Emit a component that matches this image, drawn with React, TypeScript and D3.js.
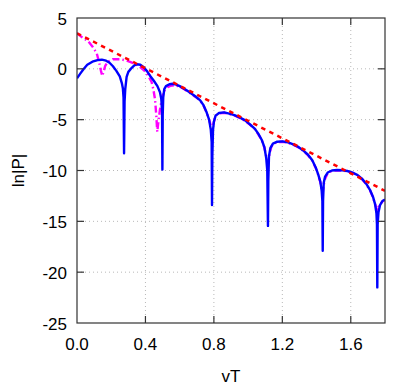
import React from 'react';
import * as d3 from 'd3';

// ln|P| against vT
const blueCurve: [number, number][] = [
  [0, -0.92], [0.02, -0.45], [0.04, 0.0], [0.06, 0.4], [0.09, 0.7], [0.12, 0.86], [0.145, 0.9],
  [0.17, 0.8], [0.19, 0.6], [0.21, 0.25], [0.23, -0.2], [0.25, -0.75], [0.262, -1.4], [0.268, -1.9],
  [0.272, -2.8], [0.275, -8.3],
  [0.278, -3.2], [0.282, -2.0], [0.29, -0.8], [0.3, -0.3], [0.32, 0.1], [0.335, 0.35], [0.35, 0.45],
  [0.37, 0.4], [0.39, 0.15], [0.41, -0.25], [0.43, -0.75], [0.45, -1.2], [0.47, -1.7], [0.485, -2.3],
  [0.493, -3.0], [0.497, -4.2], [0.499, -9.9],
  [0.501, -4.5], [0.504, -2.8], [0.51, -2.0], [0.52, -1.7], [0.54, -1.52], [0.56, -1.47], [0.58, -1.55],
  [0.6, -1.7], [0.62, -1.9], [0.645, -2.15], [0.67, -2.45], [0.695, -2.75], [0.72, -3.1], [0.74, -3.6],
  [0.758, -4.3], [0.772, -5.0], [0.782, -6.0], [0.787, -7.2], [0.789, -13.4],
  [0.791, -8.5], [0.795, -6.0], [0.8, -5.2], [0.81, -4.6], [0.83, -4.35], [0.86, -4.28], [0.89, -4.4],
  [0.92, -4.55], [0.95, -4.78], [0.98, -5.05], [1.01, -5.45], [1.04, -5.9], [1.06, -6.4], [1.08, -7.0],
  [1.095, -7.7], [1.106, -8.8], [1.112, -10.0], [1.116, -15.45],
  [1.118, -11.0], [1.122, -8.6], [1.13, -7.8], [1.145, -7.35], [1.17, -7.17], [1.2, -7.13], [1.23, -7.22],
  [1.26, -7.4], [1.29, -7.65], [1.32, -8.0], [1.35, -8.45], [1.375, -9.0], [1.395, -9.7], [1.41, -10.4],
  [1.422, -11.1], [1.43, -12.0], [1.434, -13.0], [1.436, -17.9],
  [1.438, -13.0], [1.442, -11.2], [1.45, -10.6], [1.465, -10.2], [1.49, -10.0], [1.52, -9.95],
  [1.55, -9.97], [1.58, -10.05], [1.61, -10.2], [1.64, -10.45], [1.665, -10.8], [1.69, -11.3],
  [1.712, -11.9], [1.73, -12.6], [1.742, -13.3], [1.75, -14.2], [1.753, -15.3], [1.755, -21.5],
  [1.757, -15.3], [1.762, -14.1], [1.771, -13.4], [1.785, -13.0], [1.8, -12.85],
];

const magentaCurve: [number, number][] = [
  [0, 3.5], [0.03, 3.1], [0.066, 2.7], [0.09, 2.2], [0.115, 1.55], [0.13, 0.6], [0.14, -0.2],
  [0.148, -0.7], [0.155, -0.3], [0.165, 0.3], [0.18, 0.7], [0.21, 0.95], [0.25, 0.95], [0.29, 0.82],
  [0.33, 0.55], [0.368, 0.2], [0.395, -0.2], [0.417, -0.7], [0.436, -1.3], [0.446, -2.0], [0.456, -3.0],
  [0.463, -4.5], [0.469, -6.2], [0.477, -5.0], [0.485, -4.0], [0.495, -3.0], [0.505, -2.4],
  [0.514, -2.07], [0.53, -1.8], [0.545, -1.67], [0.57, -1.6], [0.6, -1.75], [0.62, -1.94],
  [0.645, -2.19], [0.67, -2.49], [0.695, -2.79], [0.72, -3.14], [0.74, -3.64], [0.758, -4.33],
  [0.772, -5.0], [0.782, -5.6], [0.789, -5.9], [0.796, -5.5], [0.805, -4.9], [0.815, -4.55],
  [0.83, -4.39], [0.86, -4.32], [0.89, -4.44], [0.92, -4.59], [0.95, -4.82], [0.98, -5.09],
  [1.01, -5.49], [1.04, -5.94], [1.06, -6.44], [1.08, -7.04], [1.095, -7.74], [1.106, -8.6],
  [1.116, -9.2], [1.126, -8.3], [1.135, -7.7], [1.145, -7.4], [1.17, -7.21], [1.2, -7.17],
  [1.23, -7.26], [1.26, -7.44], [1.29, -7.69], [1.32, -8.04], [1.35, -8.49], [1.375, -9.04],
  [1.395, -9.74], [1.41, -10.44], [1.422, -11.14], [1.43, -11.8], [1.436, -12.2], [1.442, -11.4],
  [1.45, -10.8], [1.465, -10.25], [1.49, -10.04], [1.52, -9.99], [1.55, -10.01], [1.58, -10.09],
  [1.61, -10.24], [1.64, -10.49], [1.665, -10.84], [1.69, -11.34], [1.712, -11.94], [1.73, -12.64],
  [1.742, -13.3], [1.75, -13.7], [1.755, -13.9], [1.762, -13.6], [1.771, -13.35], [1.785, -13.04],
  [1.8, -12.9],
];

const redLine: [number, number][] = [[0, 3.5], [1.8, -12.0]];

const xTicks = [0, 0.4, 0.8, 1.2, 1.6];
const yTicks = [5, 0, -5, -10, -15, -20, -25];

const W = 399;
const H = 385;
const m = { left: 77, right: 14, top: 18, bottom: 62 };

export default function App() {
  const x = d3.scaleLinear().domain([0, 1.8]).range([m.left, W - m.right]);
  const y = d3.scaleLinear().domain([-25, 5]).range([H - m.bottom, m.top]);
  const line = d3.line<[number, number]>().x(d => x(d[0])).y(d => y(d[1]));
  const x0 = x.range()[0], x1 = x.range()[1];
  const y0 = y.range()[0], y1 = y.range()[1];
  const font = '"Liberation Sans", Arial, Helvetica, sans-serif';
  const tick = 7;

  return (
    <svg width={W} height={H} style={{ position: 'absolute', left: 0, top: 0 }} fontFamily={font}>
      <rect width={W} height={H} fill="#fff" />
      <defs>
        <clipPath id="plot">
          <rect x={x0} y={y1} width={x1 - x0} height={y0 - y1} />
        </clipPath>
      </defs>
      {/* grid */}
      <g stroke="#b8b8b8" strokeWidth={1} strokeDasharray="1,3">
        {xTicks.filter(t => t > 0).map(t => (
          <line key={'gx' + t} x1={x(t)} x2={x(t)} y1={y0} y2={y1} />
        ))}
        {yTicks.filter(t => t > -25 && t < 5).map(t => (
          <line key={'gy' + t} x1={x0} x2={x1} y1={y(t)} y2={y(t)} />
        ))}
      </g>
      {/* curves */}
      <g clipPath="url(#plot)" fill="none" strokeLinejoin="round">
        <path d={line(magentaCurve) || ''} stroke="#ff00ff" strokeWidth={2.4} strokeDasharray="7,3,1.5,3" />
        <path d={line(blueCurve) || ''} stroke="#0000ff" strokeWidth={2.4} />
        <path d={line(redLine) || ''} stroke="#ff0000" strokeWidth={2.5} strokeDasharray="4.5,4.5" />
      </g>
      {/* frame and ticks */}
      <g stroke="#333" strokeWidth={1.2}>
        <rect x={x0} y={y1} width={x1 - x0} height={y0 - y1} fill="none" />
        {xTicks.filter(t => t > 0).map(t => (
          <g key={'tx' + t}>
            <line x1={x(t)} x2={x(t)} y1={y0} y2={y0 - tick} />
            <line x1={x(t)} x2={x(t)} y1={y1} y2={y1 + tick} />
          </g>
        ))}
        {yTicks.filter(t => t > -25 && t < 5).map(t => (
          <g key={'ty' + t}>
            <line x1={x0} x2={x0 + tick} y1={y(t)} y2={y(t)} />
            <line x1={x1} x2={x1 - tick} y1={y(t)} y2={y(t)} />
          </g>
        ))}
      </g>
      {/* labels */}
      <g fontSize={17} fill="#000">
        {xTicks.map(t => (
          <text key={'lx' + t} x={x(t)} y={y0 + 27} textAnchor="middle">{t.toFixed(1)}</text>
        ))}
        {yTicks.map(t => (
          <text key={'ly' + t} x={x0 - 10} y={y(t) + 6.5} textAnchor="end">{t}</text>
        ))}
        <text x={(x0 + x1) / 2} y={y0 + 59} textAnchor="middle">vT</text>
        <text transform={`translate(24, ${(y0 + y1) / 2}) rotate(-90)`} textAnchor="middle">ln|P|</text>
      </g>
    </svg>
  );
}
